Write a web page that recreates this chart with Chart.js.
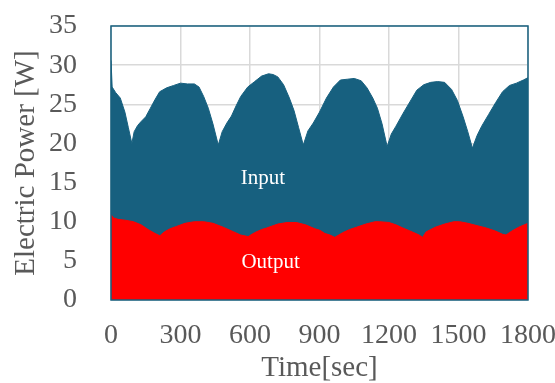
<!DOCTYPE html>
<html>
<head>
<meta charset="utf-8">
<script src="https://cdn.jsdelivr.net/npm/chart.js@4"></script>
<style>
  html, body { margin: 0; padding: 0; background: #fff; }
  #chart { display: block; }
</style>
</head>
<body>
<canvas id="chart" width="555" height="383"></canvas>
<script>
// --- DATA ---
const inputTime = [0, 5, 20, 40, 60, 75, 90, 100, 115, 130, 150, 170, 190, 210, 240, 270, 300, 330, 360, 380,
  400, 420, 440, 463, 480, 500, 520, 540, 560, 590, 620, 650, 680, 700, 720, 745, 770, 790, 810, 830,
  850, 873, 900, 930, 960, 990, 1020, 1050, 1080, 1105, 1130, 1150, 1170, 1192, 1210, 1230, 1260, 1290,
  1320, 1350, 1380, 1410, 1440, 1470, 1495, 1520, 1540, 1560, 1580, 1600, 1630, 1660, 1690, 1720, 1750, 1780, 1800];
const inputPower = [30.6, 27.2, 26.5, 25.8, 24.0, 22.0, 20.0, 21.5, 22.3, 22.8, 23.4, 24.5, 25.6, 26.6, 27.1, 27.4, 27.7, 27.6, 27.6, 27.2,
  26.0, 24.5, 22.5, 19.8, 21.5, 22.6, 23.5, 24.8, 26.0, 27.2, 27.9, 28.6, 28.9, 28.8, 28.5, 27.5, 25.8, 24.2, 22.0, 19.8,
  21.6, 22.6, 24.0, 25.8, 27.2, 28.1, 28.2, 28.3, 28.0, 27.1, 25.8, 24.5, 22.5, 19.6, 21.2, 22.2, 23.8, 25.3,
  26.8, 27.5, 27.8, 27.9, 27.8, 26.9, 25.5, 23.4, 21.5, 19.4, 21.0, 22.2, 23.7, 25.2, 26.6, 27.4, 27.7, 28.1, 28.4];

const outputTime = [0, 10, 30, 60, 97, 130, 160, 190, 211, 230, 255, 283, 320, 360, 400, 440, 484, 530, 560, 592,
  620, 650, 672, 720, 760, 800, 840, 880, 902, 923, 945, 966, 1000, 1030, 1060, 1100, 1140, 1160, 1200,
  1230, 1260, 1300, 1330, 1345, 1360, 1400, 1440, 1480, 1505, 1540, 1580, 1620, 1660, 1690, 1705, 1730, 1760, 1800];
const outputPower = [10.9, 10.5, 10.3, 10.2, 10.0, 9.6, 9.0, 8.5, 8.2, 8.7, 9.1, 9.4, 9.8, 10.0, 10.0, 9.8, 9.3, 8.7, 8.3, 8.1,
  8.6, 9.0, 9.2, 9.7, 9.9, 9.9, 9.6, 9.1, 8.9, 8.5, 8.3, 8.0, 8.6, 9.0, 9.3, 9.7, 10.0, 10.0, 9.9,
  9.6, 9.2, 8.7, 8.3, 8.0, 8.7, 9.3, 9.7, 10.0, 10.0, 9.8, 9.5, 9.2, 8.8, 8.4, 8.3, 8.8, 9.3, 9.8];

const seriesNames = ['Input', 'Output'];
const xTicks = [0, 300, 600, 900, 1200, 1500, 1800];
const yTicks = [0, 5, 10, 15, 20, 25, 30, 35];

const TEAL = '#17607f';
const RED = '#ff0000';
const SERIF = "'Liberation Serif', 'Times New Roman', serif";

function toPoints(xs, ys) {
  return xs.map((x, i) => ({ x: x, y: ys[i] }));
}

// Series name labels, placed inside the filled areas (data coordinates)
const nameAnchors = [
  { text: seriesNames[0], x: 656, y: 15.5 },
  { text: seriesNames[1], x: 689, y: 4.85 }
];

const plotFrame = {
  id: 'plotFrame',
  afterDatasetsDraw(chart) {
    const { ctx, chartArea: a, scales } = chart;
    ctx.save();
    ctx.font = '21px ' + SERIF;
    ctx.fillStyle = '#ffffff';
    ctx.textAlign = 'center';
    ctx.textBaseline = 'middle';
    nameAnchors.forEach(n => {
      ctx.fillText(n.text, scales.x.getPixelForValue(n.x), scales.y.getPixelForValue(n.y));
    });
    ctx.strokeStyle = TEAL;
    ctx.lineWidth = 1.5;
    ctx.strokeRect(a.left, a.top, a.right - a.left, a.bottom - a.top);
    ctx.restore();
  }
};

new Chart(document.getElementById('chart'), {
  type: 'line',
  data: {
    datasets: [
      {
        label: seriesNames[1],
        data: toPoints(outputTime, outputPower),
        borderColor: RED,
        backgroundColor: RED,
        borderWidth: 1,
        pointRadius: 0,
        fill: 'origin',
        tension: 0
      },
      {
        label: seriesNames[0],
        data: toPoints(inputTime, inputPower),
        borderColor: TEAL,
        backgroundColor: TEAL,
        borderWidth: 1,
        pointRadius: 0,
        fill: 'origin',
        tension: 0
      }
    ]
  },
  options: {
    responsive: false,
    animation: false,
    devicePixelRatio: 1,
    layout: { padding: { top: 26, right: 27, left: 0, bottom: 0 } },
    plugins: { legend: { display: false }, tooltip: { enabled: false } },
    scales: {
      x: {
        type: 'linear',
        min: 0,
        max: 1800,
        afterBuildTicks: scale => { scale.ticks = xTicks.map(v => ({ value: v })); },
        afterFit: scale => { scale.height = 83; scale.paddingLeft = 0; scale.paddingRight = 0; },
        grid: { color: '#d9d9d9', lineWidth: 1.5, drawTicks: false },
        border: { display: false },
        ticks: {
          color: '#595959', font: { family: SERIF, size: 28 }, padding: 19,
          maxRotation: 0, autoSkip: false, callback: v => String(v)
        },
        title: {
          display: true, text: 'Time[sec]', color: '#595959',
          font: { family: SERIF, size: 29, lineHeight: 1 }, padding: { top: 0, bottom: 0 }
        }
      },
      y: {
        min: 0,
        max: 35,
        afterBuildTicks: scale => { scale.ticks = yTicks.map(v => ({ value: v })); },
        afterFit: scale => { scale.width = 111; scale.paddingTop = 0; scale.paddingBottom = 0; },
        grid: { color: '#d9d9d9', lineWidth: 1.5, drawTicks: false },
        border: { display: false },
        ticks: {
          color: '#595959', font: { family: SERIF, size: 28 }, padding: 34,
          autoSkip: false, callback: v => String(v)
        },
        title: {
          display: true, text: 'Electric Power [W]', color: '#595959',
          font: { family: SERIF, size: 29, lineHeight: 1 }, padding: { top: 12, bottom: 0 }
        }
      }
    }
  },
  plugins: [plotFrame]
});
</script>
</body>
</html>
